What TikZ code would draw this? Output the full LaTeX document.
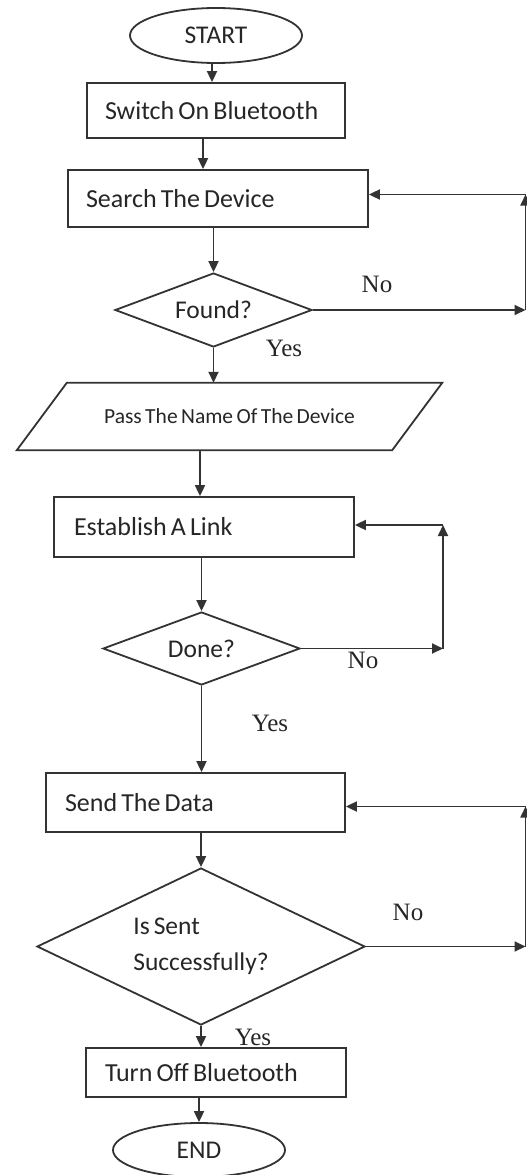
\documentclass[tikz,border=0pt]{standalone}
\usepackage{fontspec}
\setmainfont{Carlito}[WordSpace=0.7]
\newfontfamily\serifl{Liberation Serif}
\usetikzlibrary{shapes.geometric,arrows.meta,calc}
\begin{document}
\begin{tikzpicture}[x=1pt,y=-1pt,
  every node/.style={text=black!85},
  ln/.style={draw=black!80,line width=1.8pt},
  arr/.style={ln,-{Triangle[length=11pt,width=10pt]}},
  box/.style={ln,rectangle,inner xsep=18pt,inner ysep=0pt,align=flush left,font=\fontsize{26}{30}\selectfont},
  oval/.style={ln,ellipse,inner sep=0pt,font=\fontsize{25.5}{30}\selectfont},
  dec/.style={ln,diamond,aspect=2,inner sep=0pt,align=left,font=\fontsize{25.5}{36}\selectfont},
  lbl/.style={font=\serifl\fontsize{25}{30}\selectfont,inner sep=0pt}
]
\fill[white] (0,0) rectangle (527,1175);
\useasboundingbox (0,0) rectangle (527,1175);

% nodes
\node[oval,minimum width=172pt,minimum height=55pt] (start) at (216,35.5) {START};
\node[box,text width=222pt,minimum height=55pt] (switch) at (216,110.5) {Switch On Bluetooth};
\node[box,text width=264pt,minimum height=57pt] (search) at (218,198.5) {Search The Device};
\node[dec,minimum width=197pt,minimum height=74pt] (found) at (213.5,310) {Found?};
\node[inner sep=0pt,minimum width=375pt,minimum height=67pt,font=\fontsize{21.5}{26}\selectfont] (pass) at (229.5,416.5) {Pass The Name Of The Device};
\draw[ln] ([xshift=25pt]pass.north west) -- ([xshift=25pt]pass.north east)
  -- ([xshift=-25pt]pass.south east) -- ([xshift=-25pt]pass.south west) -- cycle;
\node[box,inner xsep=20pt,text width=260pt,minimum height=60pt] (establish) at (204,527) {Establish A Link};
\node[dec,minimum width=197pt,minimum height=73pt] (done) at (201.5,648.5) {Done?};
\node[box,inner xsep=19pt,text width=261pt,minimum height=59pt] (send) at (195.5,802.5) {Send The Data};
\node[dec,minimum width=328pt,minimum height=157pt] (issent) at (201,946.5) {Is Sent\\Successfully?};
\node[box,inner xsep=19pt,text width=222pt,minimum height=49pt] (turnoff) at (216,1072.5) {Turn Off Bluetooth};
\node[oval,minimum width=172pt,minimum height=54pt] (end) at (199,1150) {END};

% loop columns
\coordinate (r1) at (525.5,0);
\coordinate (r2) at (443,0);

% main flow
\draw[arr] ([xshift=-4pt]start.south) -- ([xshift=-4pt]start.south |- switch.north);
\draw[arr] ([xshift=-13pt]switch.south) -- ([xshift=-13pt]switch.south |- search.north);
\draw[arr] (found.north |- search.south) -- (found.north);
\draw[arr] (found.south) -- (found.south |- pass.north);
\draw[arr] ([xshift=-4pt]establish.north |- pass.south) -- ([xshift=-4pt]establish.north);
\draw[arr] (done.north |- establish.south) -- (done.north);
\draw[arr] (done.south) -- (done.south |- send.north);
\draw[arr] (issent.north |- send.south) -- (issent.north);
\draw[arr] (issent.south) -- (issent.south |- turnoff.north);
\draw[arr] (end.north |- turnoff.south) -- (end.north);

% loop 1
\draw[arr] (found.east) -- (found.east -| r1);
\draw[arr] (found.east -| r1) -- ([yshift=4pt]search.east -| r1);
\draw[arr] ([yshift=4pt]search.east -| r1) -- ([yshift=4pt]search.east);
% loop 2
\draw[arr] (done.east) -- (done.east -| r2);
\draw[arr] (done.east -| r2) -- ([yshift=2pt]establish.east -| r2);
\draw[arr] ([yshift=2pt]establish.east -| r2) -- ([yshift=2pt]establish.east);
% loop 3
\draw[arr] (issent.east) -- (issent.east -| r1);
\draw[arr] (issent.east -| r1) -- ([yshift=-4pt]send.east -| r1);
\draw[arr] ([yshift=-4pt]send.east -| r1) -- ([yshift=-4pt]send.east);

% labels
\node[lbl] (no1) at (377,284) {No};
\node[lbl] (yes1) at (284,348) {Yes};
\node[lbl] (no2) at (363,660) {No};
\node[lbl] (yes2) at (270,723) {Yes};
\node[lbl] (no3) at (408,912) {No};
\node[lbl] (yes3) at (253,1037) {Yes};
\end{tikzpicture}
\end{document}
